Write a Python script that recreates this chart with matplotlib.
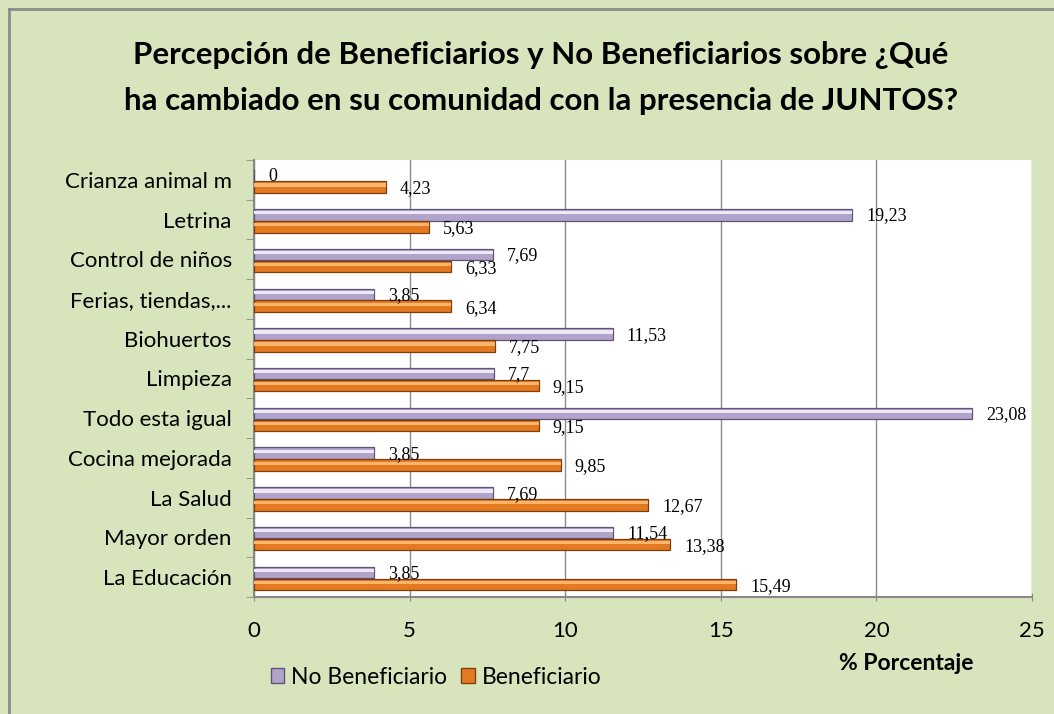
import matplotlib.pyplot as plt
import numpy as np
from matplotlib.lines import Line2D
from matplotlib.patches import Patch

categories = ['Crianza animal m', 'Letrina', 'Control de niños', 'Ferias, tiendas,...',
              'Biohuertos', 'Limpieza', 'Todo esta igual', 'Cocina mejorada',
              'La Salud', 'Mayor orden', 'La Educación']
no_benef = [0, 19.23, 7.69, 3.85, 11.53, 7.7, 23.08, 3.85, 7.69, 11.54, 3.85]
benef = [4.23, 5.63, 6.33, 6.34, 7.75, 9.15, 9.15, 9.85, 12.67, 13.38, 15.49]
no_benef_labels = ['0', '19,23', '7,69', '3,85', '11,53', '7,7', '23,08', '3,85', '7,69', '11,54', '3,85']
benef_labels = ['4,23', '5,63', '6,33', '6,34', '7,75', '9,15', '9,15', '9,85', '12,67', '13,38', '15,49']

BG = '#d8e4bc'
PURPLE = '#b2a3cb'
PURPLE_EDGE = '#5f5378'
ORANGE = '#e37a22'
ORANGE_EDGE = '#7e3f0c'

plt.rcParams['font.family'] = ['Lato', 'DejaVu Sans']

fig = plt.figure(figsize=(10.54, 7.14), dpi=100, facecolor=BG)
ax = fig.add_axes([254 / 1054, 1 - 597 / 714, (1032 - 254) / 1054, (597 - 160) / 714])
ax.set_facecolor('white')

n = len(categories)
y = np.arange(n)[::-1] - 0.03
h = 0.29
off = 0.15

ax.barh(y + off, no_benef, height=h, color=PURPLE, edgecolor=PURPLE_EDGE, linewidth=0.9, zorder=3)
ax.barh(y - off, benef, height=h, color=ORANGE, edgecolor=ORANGE_EDGE, linewidth=0.9, zorder=3)
# highlight stripes for the bevel look
ax.barh(y + off + 0.05, no_benef, height=0.08, color='#eee8f7', linewidth=0, zorder=4)
ax.barh(y - off + 0.05, benef, height=0.08, color='#f8b66c', linewidth=0, zorder=4)

for yi, v, lab in zip(y, no_benef, no_benef_labels):
    ax.text(v + 0.45, yi + off - 0.03, lab, fontsize=13, family='Liberation Serif',
            va='center', ha='left', zorder=5)
for yi, v, lab in zip(y, benef, benef_labels):
    ax.text(v + 0.45, yi - off - 0.05, lab, fontsize=13, family='Liberation Serif',
            va='center', ha='left', zorder=5)

ax.set_xlim(0, 25)
ax.set_ylim(-0.5, n - 0.5)
ax.set_xticks([0, 5, 10, 15, 20, 25])
ax.set_xticklabels(['0', '5', '10', '15', '20', '25'], fontsize=16)
ax.tick_params(axis='x', length=6, color='#888888', pad=14, direction='inout')
ax.set_yticks(np.arange(n)[::-1])
ax.set_yticklabels(categories, fontsize=16)
ax.set_yticks(np.arange(n + 1) - 0.5, minor=True)
ax.tick_params(axis='y', which='major', length=0, pad=16)
ax.tick_params(axis='y', which='minor', length=6, color='#888888')
ax.grid(axis='x', color='#8c8c8c', linewidth=1, zorder=0)
ax.set_axisbelow(True)
for side in ['top', 'right']:
    ax.spines[side].set_visible(False)
ax.spines['left'].set_color('#888888')
ax.spines['bottom'].set_color('#888888')
ax.spines['left'].set_linewidth(1.5)
ax.spines['bottom'].set_linewidth(1.5)

fig.text(0.513, 1 - 55 / 714, 'Percepción de Beneficiarios y No Beneficiarios sobre ¿Qué',
         ha='center', va='center', fontsize=22.5, fontweight='bold')
fig.text(0.513, 1 - 101 / 714, 'ha cambiado en su comunidad con la presencia de JUNTOS?',
         ha='center', va='center', fontsize=22.5, fontweight='bold')
fig.text(906 / 1054, 1 - 664 / 714, '% Porcentaje', ha='center', va='center',
         fontsize=16.5, fontweight='bold')

handles = [Patch(facecolor=PURPLE, edgecolor=PURPLE_EDGE), Patch(facecolor=ORANGE, edgecolor=ORANGE_EDGE)]
fig.legend(handles, ['No Beneficiario', 'Beneficiario'], loc='center left',
           bbox_to_anchor=(250 / 1054, 1 - 677 / 714), ncol=2, frameon=False,
           fontsize=16.5, handlelength=0.6, handleheight=0.6, handletextpad=0.3,
           columnspacing=0.6)

# outer border
fig.add_artist(Line2D([9 / 1054, 9 / 1054], [0, 1 - 9 / 714], transform=fig.transFigure,
                      color='#8c8c8c', linewidth=2))
fig.add_artist(Line2D([9 / 1054, 1], [1 - 9 / 714, 1 - 9 / 714], transform=fig.transFigure,
                      color='#8c8c8c', linewidth=2))

fig.savefig('out.png', dpi=100, facecolor=BG)
